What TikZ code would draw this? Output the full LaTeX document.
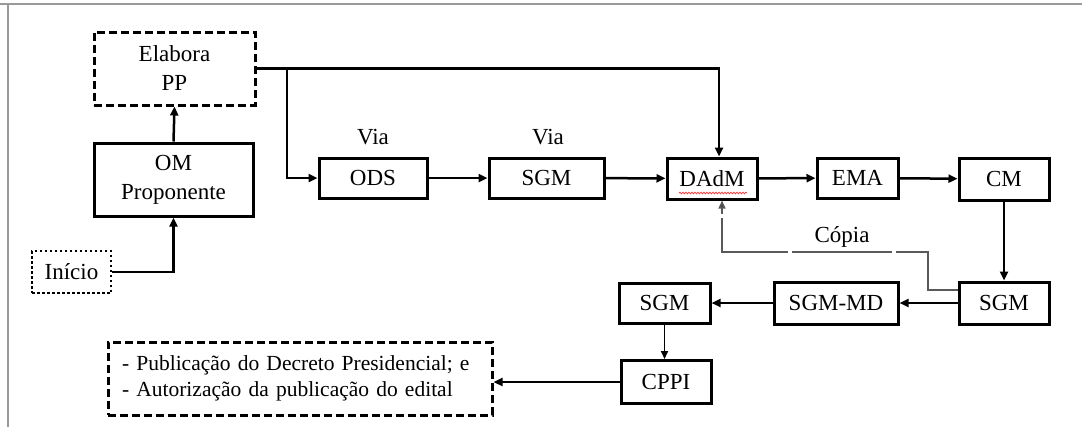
\documentclass[tikz,border=0pt]{standalone}
\usepackage{fontspec}
\setmainfont{Liberation Serif}
\usetikzlibrary{arrows.meta,decorations.pathmorphing}
\begin{document}
\begin{tikzpicture}[x=1pt,y=-1pt,
 box/.style={draw,line width=3pt,rectangle,inner sep=0pt,align=center,font=\fontsize{23}{29}\selectfont},
 dbox/.style={box,dash pattern=on 8pt off 4pt},
 obox/.style={box,line width=2.6pt,dash pattern=on 2.5pt off 2.5pt},
 arr/.style={line width=2.5pt,-{Triangle[length=9pt,width=8pt]}},
 tarr/.style={line width=1.6pt,-{Triangle[length=8pt,width=7pt]}},
 copia/.style={line width=1.5pt,draw=black!65,dash pattern=on 100pt off 4pt,-{Triangle[length=8pt,width=7pt,fill=black!75]}},
 lbl/.style={font=\fontsize{23}{27}\selectfont,inner sep=0pt},
 frame/.style={draw=black!40,line width=1.2pt},
]
\useasboundingbox (0,0) rectangle (1082,437);
\draw[frame] (0,4) -- (1082,4);
\draw[frame] (8,4) -- (8,427);

\node[dbox,minimum width=161pt,minimum height=73pt] (elab) at (174.5,68.5) {Elabora\\PP};
\node[box,minimum width=159pt,minimum height=73pt] (om) at (173.5,179.5) {OM\\Proponente};
\node[obox,minimum width=79pt,minimum height=42pt] (ini) at (71.5,272) {Início};
\node[box,minimum width=108pt,minimum height=40pt] (ods) at (373,178) {ODS};
\node[box,minimum width=115pt,minimum height=40pt] (sgma) at (546.5,178) {SGM};
\node[box,minimum width=90pt,minimum height=41pt] (dadm) at (712,178.5) {DAdM};
\node[box,minimum width=81pt,minimum height=40pt] (ema) at (857.5,178) {EMA};
\node[box,minimum width=90pt,minimum height=42pt] (cm) at (1004,179) {CM};
\node[box,minimum width=90pt,minimum height=42pt] (sgmr) at (1004,303) {SGM};
\node[box,minimum width=124pt,minimum height=42pt] (sgmmd) at (836,303) {SGM-MD};
\node[box,minimum width=91pt,minimum height=40pt] (sgml) at (664.5,303) {SGM};
\node[box,minimum width=90pt,minimum height=43pt] (cppi) at (666,382) {CPPI};
\node[dbox,minimum height=73pt,text width=356pt,inner xsep=14pt,align=left,font=\fontsize{21.5}{26}\selectfont] (out) at (300,378.5)
 {- Publicação do Decreto Presidencial; e\\- Autorização da publicação do edital};

\node[lbl] (via1) at (373,137) {Via};
\node[lbl] (via2) at (548,137) {Via};
\node[lbl] (cop) at (842,237) {Cópia};

\coordinate (br) at (287,68);
\coordinate (c1) at (928,252);

\draw[arr] (ini.east) -| (om.south);
\draw[arr] (om.north) -- (elab.south);
\draw[arr] (elab.east) -| ([xshift=7pt]dadm.north);
\draw[arr] (br) |- (ods.west);
\draw[arr] (ods) -- (sgma);
\draw[arr] (sgma) -- (dadm);
\draw[arr] (dadm) -- (ema);
\draw[arr] (ema) -- (cm);
\draw[arr] (cm) -- (sgmr);
\draw[arr] (sgmr) -- (sgmmd);
\draw[arr] (sgmmd) -- (sgml);
\draw[tarr] (sgml.south) -- (sgml.south |- cppi.north);
\draw[arr] (cppi.west) -- (cppi.west -| out.east);
\draw[copia] ([yshift=13pt]sgmr.west) -| (c1) -| ([xshift=10pt]dadm.south);

\draw[red!80,line width=0.7pt,decorate,decoration={snake,amplitude=0.9pt,segment length=3pt}] (679,193) -- (747,193);
\end{tikzpicture}
\end{document}
